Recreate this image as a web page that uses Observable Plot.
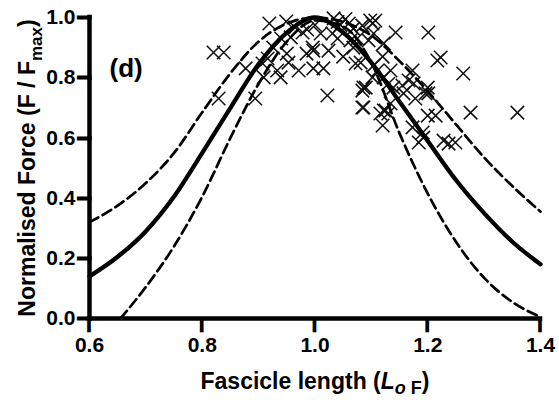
<!DOCTYPE html>
<html><head><meta charset="utf-8">
<script src="https://cdn.jsdelivr.net/npm/d3@7"></script>
<script src="https://cdn.jsdelivr.net/npm/@observablehq/plot@0.6"></script>
<style>
body{margin:0;background:#fff;}
svg{background:#fff;}
</style>
</head><body><div id="chart"></div>
<script>
// Fitted curves
const curveX    = [0.6, 0.65, 0.7, 0.75, 0.8, 0.85, 0.9, 0.95, 1.0, 1.05, 1.1, 1.15, 1.2, 1.25, 1.3, 1.35, 1.4];
const fitMean   = [0.14, 0.205, 0.29, 0.405, 0.55, 0.70, 0.845, 0.95, 1.0, 0.95, 0.85, 0.72, 0.59, 0.46, 0.35, 0.255, 0.18];
const fitUpper  = [0.32, 0.375, 0.45, 0.55, 0.685, 0.815, 0.92, 0.98, 1.0, 0.985, 0.94, 0.855, 0.755, 0.645, 0.535, 0.44, 0.355];
const lowerX    = [0.655, 0.7, 0.75, 0.8, 0.85, 0.9, 0.95, 1.0, 1.05, 1.1, 1.15, 1.2, 1.25, 1.3, 1.35, 1.4];
const fitLower  = [0.0, 0.105, 0.24, 0.405, 0.60, 0.78, 0.92, 0.99, 0.97, 0.85, 0.615, 0.415, 0.255, 0.135, 0.055, 0.005];

// Observations (fascicle length, normalised force)
const obsX = [0.820,0.838,0.919,0.949,0.829,0.894,1.022,0.877,0.907,0.933,0.939,0.953,0.971,0.997,1.015,0.996,0.997,1.024,0.957,0.978,
              0.965,1.010,1.031,1.033,1.054,1.068,1.084,1.098,1.081,1.084,1.090,1.084,1.102,0.926,0.909,0.916,1.040,1.102,1.107,1.143,
              1.201,1.217,1.263,1.359,1.276,1.072,1.086,1.086,1.122,1.139,1.155,1.173,1.166,1.200,1.201,1.178,1.122,1.130,1.134,1.200,
              1.214,1.173,1.192,1.228,1.237,1.249,1.104,1.122,1.095,1.068,1.063,1.104,1.111,1.134,1.157,1.175,1.116,1.125,1.196,1.223,
              1.191,1.120,1.184,0.986,1.000,1.045,1.060,0.940,0.985,1.040,1.050,1.120,0.950,1.075,1.130];
const obsY = [0.884,0.884,0.980,0.987,0.731,0.731,0.741,0.831,0.847,0.824,0.801,0.850,0.824,0.831,0.831,0.900,0.890,0.890,0.934,0.950,
              0.967,0.947,0.947,0.997,0.995,0.963,0.973,0.990,0.850,0.757,0.767,0.701,0.801,0.900,0.801,0.864,0.985,0.980,0.990,0.950,
              0.950,0.857,0.814,0.684,0.684,0.847,0.767,0.701,0.801,0.767,0.774,0.824,0.791,0.767,0.748,0.731,0.691,0.681,0.714,0.674,
              0.674,0.635,0.601,0.591,0.581,0.585,0.947,0.914,0.924,0.900,0.924,0.841,0.824,0.824,0.748,0.781,0.681,0.691,0.748,0.867,
              0.618,0.641,0.585,0.960,0.975,0.975,0.980,0.930,0.880,0.930,0.870,0.870,0.880,0.930,0.780];

const xTicks = [0.6, 0.8, 1.0, 1.2, 1.4];
const yTicks = [0.0, 0.2, 0.4, 0.6, 0.8, 1.0];
const panelLabel = "(d)";

const curve = curveX.map((x, i) => ({x, mean: fitMean[i], upper: fitUpper[i]}));
const lower = lowerX.map((x, i) => ({x, y: fitLower[i]}));
const obs = obsX.map((x, i) => ({x, y: obsY[i]}));

const font = "Liberation Sans, Arial, Helvetica, sans-serif";
const fmt = d3.format(".1f");
const xMin = 0.6, xMax = 1.4, yMin = 0, yMax = 1;

const svg = Plot.plot({
  width: 559,
  height: 400,
  marginLeft: 89,
  marginRight: 19,
  marginTop: 17,
  marginBottom: 82,
  style: {fontFamily: font, background: "#fff", overflow: "visible"},
  x: {domain: [xMin, xMax], axis: null},
  y: {domain: [yMin, yMax], axis: null},
  marks: [
    Plot.dot(obs, {x: "x", y: "y", symbol: "times", r: 6.2, stroke: "#111", strokeWidth: 1.5}),
    Plot.line(curve, {x: "x", y: "upper", stroke: "#000", strokeWidth: 2.7, strokeDasharray: "10,5", curve: "monotone-x"}),
    Plot.line(lower, {x: "x", y: "y", stroke: "#000", strokeWidth: 2.7, strokeDasharray: "10,5", curve: "monotone-x"}),
    Plot.line(curve, {x: "x", y: "mean", stroke: "#000", strokeWidth: 4.3, curve: "monotone-x"}),
    // axis lines
    Plot.ruleX([xMin], {stroke: "#000", strokeWidth: 4.5, strokeLinecap: "square"}),
    Plot.ruleY([yMin], {stroke: "#000", strokeWidth: 4.5, strokeLinecap: "square"}),
    // tick labels
    Plot.text(xTicks, {x: d => d, frameAnchor: "bottom", dy: 19, lineAnchor: "top", text: d => fmt(d), fontSize: 21, fontWeight: "bold", fill: "#000"}),
    Plot.text(yTicks, {y: d => d, frameAnchor: "left", dx: -14, textAnchor: "end", text: d => fmt(d), fontSize: 21, fontWeight: "bold", fill: "#000"}),
    Plot.text([panelLabel], {text: d => d, frameAnchor: "top-left", dx: 20, dy: 41, lineAnchor: "top", textAnchor: "start", fontSize: 26, fontWeight: "bold", fill: "#000"})
  ]
});

const s = d3.select(svg);
const scX = svg.scale("x"), scY = svg.scale("y");
const fx = typeof scX.apply === "function" ? v => scX.apply(v) : d3.scaleLinear(scX.domain, scX.range);
const fy = typeof scY.apply === "function" ? v => scY.apply(v) : d3.scaleLinear(scY.domain, scY.range);
const x0 = fx(xMin), y0 = fy(yMin);

// outward tick marks drawn as stroked glyphs, placed with Plot's scales
const tg = s.append("g").attr("font-family", "Liberation Sans, Arial, sans-serif")
  .attr("fill", "#000").attr("stroke", "#000").attr("stroke-linejoin", "miter");
xTicks.forEach(v => {
  tg.append("text").attr("x", fx(v)).attr("y", y0 + 9.5)
    .attr("text-anchor", "middle").attr("font-size", 13).attr("stroke-width", 2.6).text("|");
});
yTicks.forEach(v => {
  tg.append("text").attr("x", x0 + 1).attr("y", fy(v) + 3.2)
    .attr("text-anchor", "end").attr("font-size", 11.5).attr("stroke-width", 3.2).text("\u2014");
});

// y-axis title with subscript
const yl = s.append("text")
  .attr("transform", "translate(27,168) rotate(-90)")
  .attr("text-anchor", "middle")
  .attr("dy", "0.35em")
  .attr("font-family", font).attr("font-weight", "bold").attr("font-size", 23).attr("fill", "#000");
yl.append("tspan").text("Normalised Force (F / F");
yl.append("tspan").attr("font-size", 17).attr("dy", 7).text("max");
yl.append("tspan").attr("dy", -7).text(")");

// x-axis title with italic/subscript
const xl = s.append("text")
  .attr("x", 315).attr("y", 389)
  .attr("text-anchor", "middle")
  .attr("font-family", font).attr("font-weight", "bold").attr("font-size", 23).attr("fill", "#000");
xl.append("tspan").text("Fascicle length (");
xl.append("tspan").attr("font-style", "italic").text("L");
xl.append("tspan").attr("font-style", "italic").attr("font-size", 18).attr("dy", 5).text("o");
xl.append("tspan").attr("font-size", 18).text(" F");
xl.append("tspan").attr("dy", -5).text(")");

document.getElementById("chart").appendChild(svg);
</script>
</body></html>
